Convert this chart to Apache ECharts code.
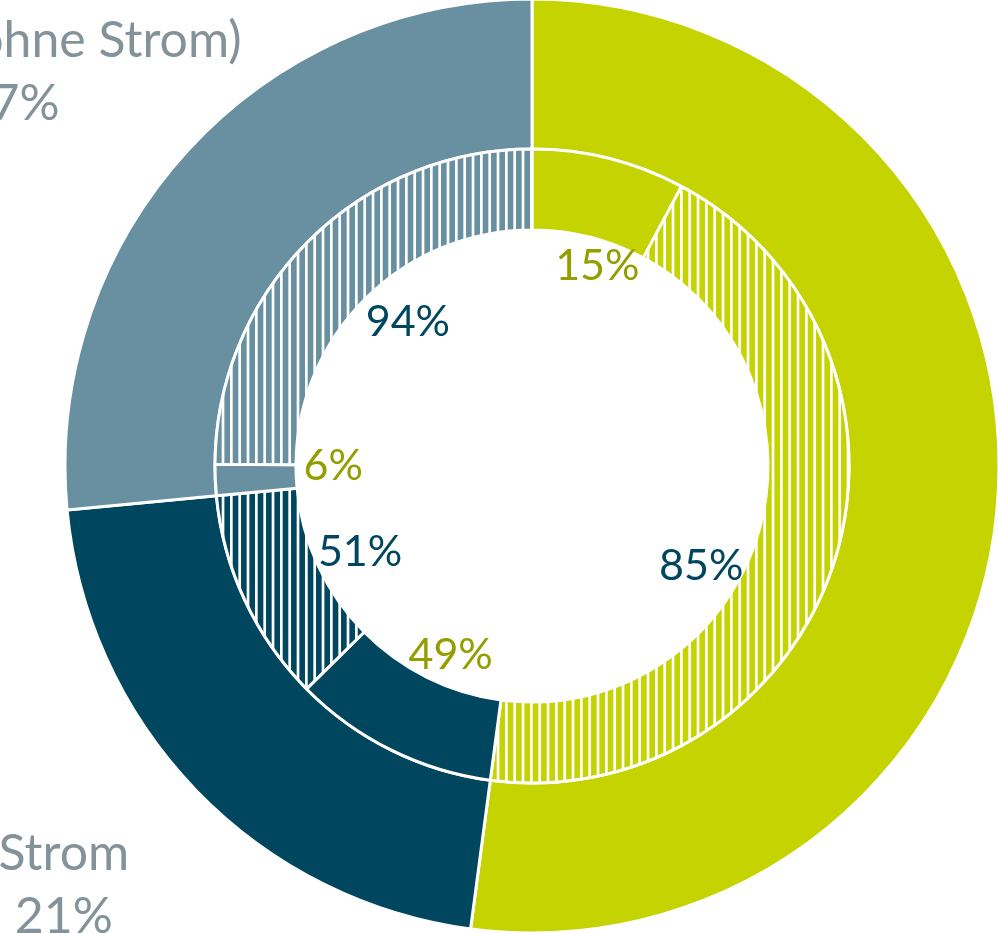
<!DOCTYPE html>
<html>
<head>
<meta charset="utf-8">
<script src="https://cdn.jsdelivr.net/npm/echarts@6/dist/echarts.min.js"></script>
<style>
  html, body { margin: 0; padding: 0; background: #fff; overflow: hidden; }
  #chart { width: 998px; height: 933px; }
</style>
</head>
<body>
<div id="chart"></div>
<script>
// Anteile der Sektoren (aussen) und Anteil erneuerbar / fossil je Sektor (innen)
var sectors = ['Wärme (ohne Strom)', 'Strom', 'Verkehr (ohne Strom)'];
var sectorShare = [52.1, 21.4, 26.5];
var renewableShare = [15, 49, 6];
var fossilShare = [85, 51, 94];

var sectorColors = ['#c5d300', '#00465f', '#6890a0'];
var renewLabelColor = '#949e00';
var fossilLabelColor = '#00465f';
var outerLabelColor = '#849399';

// vertikale weisse Schraffur (Abstand ca. 8.3 px)
function stripes(color) {
  var c = document.createElement('canvas');
  c.width = 25;
  c.height = 8;
  var ctx = c.getContext('2d');
  ctx.fillStyle = color;
  ctx.fillRect(0, 0, 25, 8);
  ctx.fillStyle = '#ffffff';
  for (var k = 0; k < 3; k++) {
    ctx.fillRect(5 + k * 25 / 3, 0, 2.7, 8);
  }
  return { image: c, repeat: 'repeat' };
}

var outerData = [];
var outerLabelData = [];
var innerData = [];
var innerLabelData = [];
for (var i = 0; i < sectors.length; i++) {
  outerData.push({ name: sectors[i], value: sectorShare[i], itemStyle: { color: sectorColors[i] } });
  outerLabelData.push({
    name: sectors[i],
    value: sectorShare[i],
    label: i === 0 ? { width: 290, overflow: 'break' } : {}
  });
  var vr = sectorShare[i] * renewableShare[i] / 100;
  var vf = sectorShare[i] * fossilShare[i] / 100;
  innerData.push({ name: 'erneuerbar', value: vr, itemStyle: { color: sectorColors[i] } });
  innerData.push({ name: 'fossil', value: vf, itemStyle: { color: stripes(sectorColors[i]) } });
  innerLabelData.push({ name: renewableShare[i] + '%', value: vr, label: { color: renewLabelColor } });
  innerLabelData.push({ name: fossilShare[i] + '%', value: vf, label: { color: fossilLabelColor } });
}

// kleine Verschiebungen der Beschriftung wie im Original
var outerNudge = [[0, 0], [-5, -27], [-46, 39]];
var innerNudge = [[16, -3], [-24, 38], [9, 7], [12, 0], [4, -9], [19, 0]];

var chart = echarts.init(document.getElementById('chart'));
var center = [532, 466];
var option = {
  animation: false,
  series: [
    {
      type: 'pie',
      center: center,
      radius: [317, 467],
      startAngle: 90,
      silent: true,
      itemStyle: { borderColor: '#fff', borderWidth: 3 },
      label: { show: false },
      labelLine: { show: false },
      data: outerData
    },
    {
      type: 'pie',
      center: center,
      radius: [236, 317],
      startAngle: 90,
      silent: true,
      itemStyle: { borderColor: '#fff', borderWidth: 3 },
      label: { show: false },
      labelLine: { show: false },
      data: innerData
    },
    {
      // Beschriftung der inneren Ringe
      type: 'pie',
      center: center,
      radius: [185, 215],
      startAngle: 90,
      silent: true,
      itemStyle: { color: 'rgba(0,0,0,0)' },
      label: {
        show: true,
        position: 'inside',
        formatter: '{b}',
        fontFamily: 'Lato',
        fontSize: 43
      },
      labelLine: { show: false },
      labelLayout: function (p) {
        return { dx: innerNudge[p.dataIndex][0], dy: innerNudge[p.dataIndex][1] };
      },
      data: innerLabelData
    },
    {
      // Beschriftung der Sektoren
      type: 'pie',
      center: center,
      radius: [615, 665],
      startAngle: 90,
      silent: true,
      itemStyle: { color: 'rgba(0,0,0,0)' },
      label: {
        show: true,
        position: 'inside',
        formatter: function (p) { return p.name + '\n' + Math.round(p.value) + '%'; },
        fontFamily: 'Lato',
        fontSize: 50,
        lineHeight: 63,
        color: outerLabelColor
      },
      labelLine: { show: false },
      labelLayout: function (p) {
        return { dx: outerNudge[p.dataIndex][0], dy: outerNudge[p.dataIndex][1] };
      },
      data: outerLabelData
    }
  ]
};
chart.setOption(option);
</script>
</body>
</html>
